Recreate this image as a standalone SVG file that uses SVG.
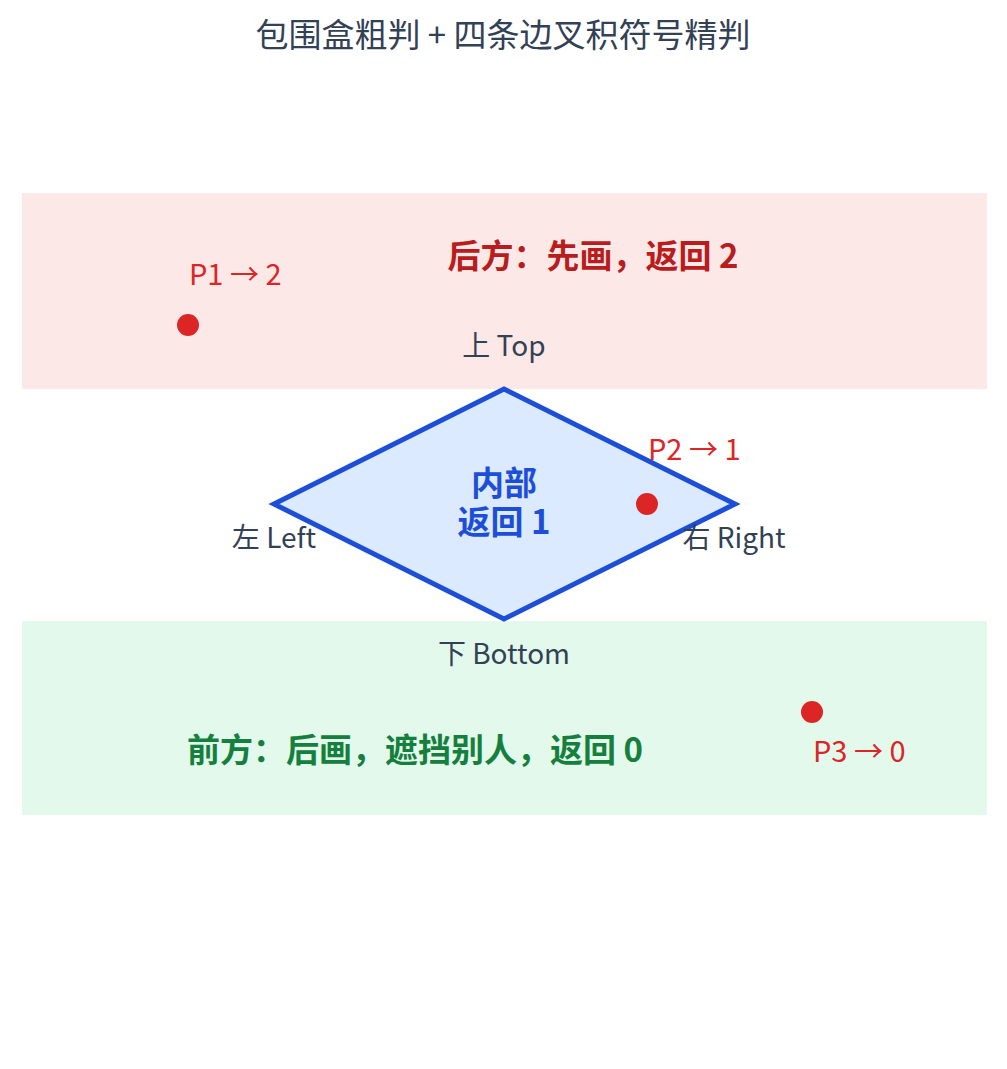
<svg xmlns="http://www.w3.org/2000/svg" width="1007" height="1069" viewBox="0 0 1007 1069">
<style>
text{font-family:"Noto Sans CJK SC","Noto Sans",sans-serif;}
.title{font-size:33px;fill:#334155;text-anchor:middle;}
.lbl{font-size:28px;fill:#334155;text-anchor:middle;}
.pt{font-size:29px;fill:#dc2626;}
.dot{fill:#dc2626;}
.big{font-size:33px;font-weight:bold;text-anchor:middle;}
</style>
<rect width="1007" height="1069" fill="#ffffff"/>
<text class="title" x="503" y="47">包围盒粗判 + 四条边叉积符号精判</text>
<g id="back-zone">
<rect x="22" y="193" width="965" height="196" fill="#fde8e8"/>
<text class="big" x="593" y="268" fill="#b91c1c">后方：先画，返回 2</text>
</g>
<g id="front-zone">
<rect x="22" y="621" width="965" height="194" fill="#e2f9ec"/>
<text class="big" x="415" y="762" fill="#15803d">前方：后画，遮挡别人，返回 0</text>
</g>
<g id="diamond">
<polygon points="504,389 735,504 504,619 274,504" fill="#dbeafe" stroke="#1d4ed8" stroke-width="5" stroke-linejoin="miter"/>
<text class="big" x="504" y="495" fill="#1d4ed8">内部</text>
<text class="big" x="504" y="534" fill="#1d4ed8">返回 1</text>
</g>
<g id="labels">
<text class="lbl" x="504" y="356">上 Top</text>
<text class="lbl" x="274" y="548">左 Left</text>
<text class="lbl" x="734" y="548">右 Right</text>
<text class="lbl" x="504" y="664">下 Bottom</text>
</g>
<g id="p1"><circle class="dot" cx="188" cy="325" r="11"/><text class="pt" x="189" y="285">P1 → 2</text></g>
<g id="p2"><circle class="dot" cx="647" cy="504" r="11"/><text class="pt" x="648" y="460">P2 → 1</text></g>
<g id="p3"><circle class="dot" cx="812" cy="712" r="11"/><text class="pt" x="813" y="762">P3 → 0</text></g>
<g id="connectors"></g>
</svg>
